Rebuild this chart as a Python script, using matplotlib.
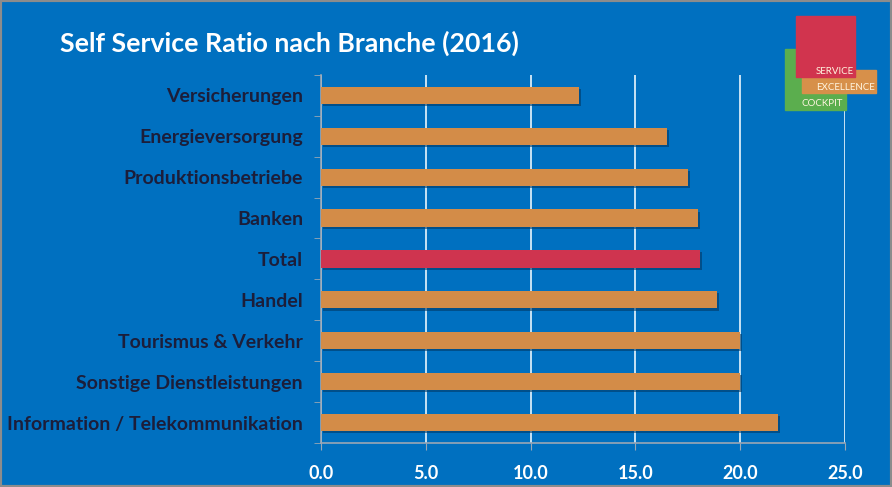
import matplotlib
matplotlib.use("Agg")
import matplotlib.pyplot as plt
import matplotlib.patheffects as pe
from matplotlib.patches import Rectangle

plt.rcParams['font.family'] = ['Lato', 'DejaVu Sans']

branchen = ["Versicherungen", "Energieversorgung", "Produktionsbetriebe", "Banken", "Total",
            "Handel", "Tourismus & Verkehr", "Sonstige Dienstleistungen",
            "Information / Telekommunikation"]
werte = [12.3, 16.5, 17.5, 18.0, 18.1, 18.9, 20.0, 20.0, 21.8]
x_ticks = [0, 5, 10, 15, 20, 25]

blau = "#0070C0"
orange = "#D38C48"
rot = "#CF344F"

fig = plt.figure(figsize=(8.92, 4.87), dpi=100, facecolor=blau)
ax = fig.add_axes([0.36, 0.0903, 0.587, 0.756])
ax.set_facecolor(blau)

farben = [rot if b == "Total" else orange for b in branchen]
pos = list(range(len(branchen)))
balken = ax.barh(pos, werte, height=0.42, color=farben, zorder=3)
for b in balken:
    b.set_path_effects([pe.SimplePatchShadow(offset=(1.5, -1.5), shadow_rgbFace="#003a66", alpha=0.6),
                        pe.Normal()])

ax.set_ylim(len(branchen) - 0.5, -0.5)
ax.set_xlim(0, 25)
ax.set_xticks(x_ticks)
ax.set_xticklabels([f"{v:.1f}" for v in x_ticks], color="white", fontweight="bold", fontsize=13)
ax.set_yticks(pos)
ax.set_yticklabels(branchen, color="#1C1E3A", fontweight="bold", fontsize=14)
ax.tick_params(axis="y", length=0, pad=13)
ax.tick_params(axis="x", length=5, color="#9AA7B5", pad=11)
ax.set_yticks([p - 0.5 for p in pos] + [len(branchen) - 0.5], minor=True)
ax.tick_params(axis="y", which="minor", length=5, color="#9AA7B5")

ax.grid(axis="x", color="#D8ECF8", linewidth=1.3, zorder=1)
for s in ["top", "right"]:
    ax.spines[s].set_visible(False)
for s in ["left", "bottom"]:
    ax.spines[s].set_color("#9AA7B5")
    ax.spines[s].set_linewidth(1.2)

fig.text(0.067, 0.912, "Self Service Ratio nach Branche (2016)", color="white",
         fontweight="bold", fontsize=19.3, va="center")

# Logo
def px_rect(x0, y0, x1, y1, farbe):
    W, H = 892, 487
    fig.patches.append(Rectangle((x0 / W, 1 - y1 / H), (x1 - x0) / W, (y1 - y0) / H,
                                 transform=fig.transFigure, color=farbe, zorder=5))

px_rect(785, 49, 846, 110, "#5BAE4E")
px_rect(802, 70, 876, 93, "#D7904A")
px_rect(796, 16, 855, 77, "#D1344E")
for txt, x, y in [("SERVICE", 816, 71), ("EXCELLENCE", 816, 87), ("COCKPIT", 801, 103)]:
    fig.text(x / 892, 1 - y / 487, txt, color="#FFF5E0", fontsize=7, va="center", zorder=6)

fig.patches.append(Rectangle((0, 0), 1, 1, transform=fig.transFigure, fill=False,
                             edgecolor="#8C8C8C", linewidth=3, zorder=10))

fig.savefig("out.png", dpi=100, facecolor=blau)
